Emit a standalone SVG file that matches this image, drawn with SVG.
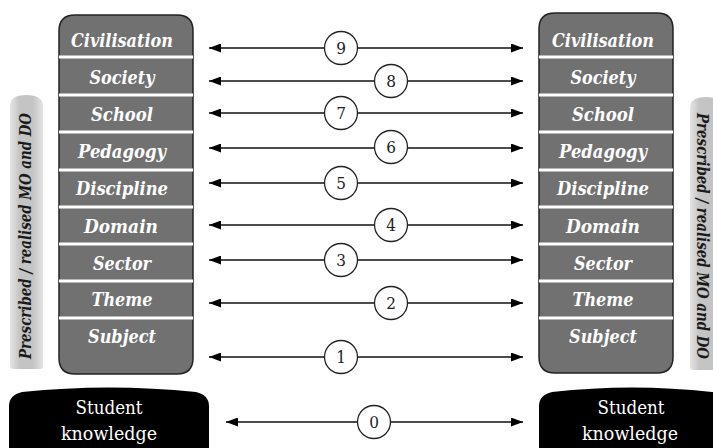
<svg xmlns="http://www.w3.org/2000/svg" width="713" height="448" viewBox="0 0 713 448">
<defs>
<style>
.lbl{font-family:"DejaVu Serif Condensed","DejaVu Serif",serif;font-weight:bold;font-style:italic;font-size:18px;fill:#ffffff;text-anchor:middle}
.stu{font-family:"DejaVu Serif Condensed","DejaVu Serif",serif;font-size:19px;fill:#ffffff;text-anchor:middle}
.num{font-family:"DejaVu Serif Condensed","DejaVu Serif",serif;font-size:17px;fill:#222;text-anchor:middle}
.side{font-family:"DejaVu Serif Condensed","DejaVu Serif",serif;font-weight:bold;font-style:italic;font-size:16px;fill:#1a1a1a;text-anchor:middle}
.box{fill:#717171;stroke:#222;stroke-width:1.5}
.sep{stroke:#ffffff;stroke-width:3}
.arr{stroke:#111;stroke-width:1.6;fill:none;marker-start:url(#ah);marker-end:url(#ah)}
.circ{fill:#fff;stroke:#222;stroke-width:1.3}
.dark{fill:#000}
</style>
<marker id="ah" viewBox="0 0 12 9" refX="12" refY="4.5" markerWidth="12" markerHeight="9" markerUnits="userSpaceOnUse" orient="auto-start-reverse">
<path d="M0,0 L12,4.5 L0,9 z" fill="#000"/>
</marker>
<linearGradient id="bar" x1="0" x2="1" y1="0" y2="0">
<stop offset="0" stop-color="#e4e4e4"/>
<stop offset="0.3" stop-color="#c4c4c4"/>
<stop offset="0.7" stop-color="#c4c4c4"/>
<stop offset="1" stop-color="#e4e4e4"/>
</linearGradient>
</defs>

<g id="side-left">
<path d="M10,106 Q10,95 26,95 Q43,95 43,106 L43,366 Q43,369 40,369 L14,369 Q10,369 10,366 Z" fill="url(#bar)"/>
<text class="side" transform="translate(31,236) rotate(-90)" textLength="246" lengthAdjust="spacingAndGlyphs">Prescribed / realised MO and DO</text>
</g>
<g id="side-right">
<path d="M690,108 Q690,97 706,97 Q722,97 722,108 L722,370 L694,370 Q690,370 690,366 Z" fill="url(#bar)"/>
<text class="side" transform="translate(697,236) rotate(90)" textLength="246" lengthAdjust="spacingAndGlyphs">Prescribed / realised MO and DO</text>
</g>

<g id="column-left">
<path class="box" d="M59,31 Q59,15 75,15 L177,15 Q193,15 193,31 L193,358 Q193,374 177,374 L75,374 Q59,374 59,358 Z"/>
<line class="sep" x1="59" y1="57" x2="193" y2="57"/>
<line class="sep" x1="59" y1="95" x2="193" y2="95"/>
<line class="sep" x1="59" y1="132" x2="193" y2="132"/>
<line class="sep" x1="59" y1="170" x2="193" y2="170"/>
<line class="sep" x1="59" y1="207" x2="193" y2="207"/>
<line class="sep" x1="59" y1="244" x2="193" y2="244"/>
<line class="sep" x1="59" y1="281" x2="193" y2="281"/>
<line class="sep" x1="59" y1="318" x2="193" y2="318"/>
<text class="lbl" x="122" y="47" textLength="102" lengthAdjust="spacingAndGlyphs">Civilisation</text>
<text class="lbl" x="122" y="84" textLength="65" lengthAdjust="spacingAndGlyphs">Society</text>
<text class="lbl" x="122" y="121" textLength="62" lengthAdjust="spacingAndGlyphs">School</text>
<text class="lbl" x="122" y="158" textLength="88" lengthAdjust="spacingAndGlyphs">Pedagogy</text>
<text class="lbl" x="122" y="195" textLength="92" lengthAdjust="spacingAndGlyphs">Discipline</text>
<text class="lbl" x="121" y="233" textLength="74" lengthAdjust="spacingAndGlyphs">Domain</text>
<text class="lbl" x="122" y="270" textLength="58" lengthAdjust="spacingAndGlyphs">Sector</text>
<text class="lbl" x="122" y="306" textLength="61" lengthAdjust="spacingAndGlyphs">Theme</text>
<text class="lbl" x="122" y="343" textLength="68" lengthAdjust="spacingAndGlyphs">Subject</text>
</g>

<g id="column-right">
<path class="box" d="M539,29 Q539,13 555,13 L657,13 Q673,13 673,29 L673,357 Q673,373 657,373 L555,373 Q539,373 539,357 Z"/>
<line class="sep" x1="539" y1="57" x2="673" y2="57"/>
<line class="sep" x1="539" y1="95" x2="673" y2="95"/>
<line class="sep" x1="539" y1="132" x2="673" y2="132"/>
<line class="sep" x1="539" y1="170" x2="673" y2="170"/>
<line class="sep" x1="539" y1="207" x2="673" y2="207"/>
<line class="sep" x1="539" y1="244" x2="673" y2="244"/>
<line class="sep" x1="539" y1="281" x2="673" y2="281"/>
<line class="sep" x1="539" y1="318" x2="673" y2="318"/>
<text class="lbl" x="603" y="47" textLength="102" lengthAdjust="spacingAndGlyphs">Civilisation</text>
<text class="lbl" x="603" y="84" textLength="65" lengthAdjust="spacingAndGlyphs">Society</text>
<text class="lbl" x="603" y="121" textLength="62" lengthAdjust="spacingAndGlyphs">School</text>
<text class="lbl" x="603" y="158" textLength="88" lengthAdjust="spacingAndGlyphs">Pedagogy</text>
<text class="lbl" x="603" y="195" textLength="92" lengthAdjust="spacingAndGlyphs">Discipline</text>
<text class="lbl" x="603" y="233" textLength="74" lengthAdjust="spacingAndGlyphs">Domain</text>
<text class="lbl" x="603" y="270" textLength="58" lengthAdjust="spacingAndGlyphs">Sector</text>
<text class="lbl" x="603" y="306" textLength="61" lengthAdjust="spacingAndGlyphs">Theme</text>
<text class="lbl" x="603" y="343" textLength="68" lengthAdjust="spacingAndGlyphs">Subject</text>
</g>

<g id="student-left">
<path class="dark" d="M9,406 Q9,395 22,392 Q109,383 196,392 Q209,395 209,406 L209,448 L9,448 Z"/>
<text class="stu" x="109" y="414" textLength="67" lengthAdjust="spacingAndGlyphs">Student</text>
<text class="stu" x="109" y="440" textLength="96" lengthAdjust="spacingAndGlyphs">knowledge</text>
</g>
<g id="student-right">
<path class="dark" d="M539,406 Q539,395 552,392 Q632,383 712,392 L713,392 L713,448 L539,448 Z"/>
<text class="stu" x="631" y="414" textLength="67" lengthAdjust="spacingAndGlyphs">Student</text>
<text class="stu" x="630" y="440" textLength="96" lengthAdjust="spacingAndGlyphs">knowledge</text>
</g>

<g id="connectors">
<line class="arr" x1="209" y1="48" x2="523" y2="48"/>
<line class="arr" x1="209" y1="81" x2="523" y2="81"/>
<line class="arr" x1="209" y1="113" x2="523" y2="113"/>
<line class="arr" x1="209" y1="148" x2="523" y2="148"/>
<line class="arr" x1="209" y1="183" x2="523" y2="183"/>
<line class="arr" x1="209" y1="225" x2="523" y2="225"/>
<line class="arr" x1="209" y1="260" x2="523" y2="260"/>
<line class="arr" x1="209" y1="303" x2="523" y2="303"/>
<line class="arr" x1="209" y1="357" x2="523" y2="357"/>
<line class="arr" x1="226" y1="422" x2="523" y2="422"/>
</g>

<g id="badges">
<circle class="circ" cx="341" cy="48" r="16.5"/><text class="num" x="341" y="54">9</text>
<circle class="circ" cx="391" cy="81" r="16.5"/><text class="num" x="391" y="87">8</text>
<circle class="circ" cx="341" cy="113" r="16.5"/><text class="num" x="341" y="119">7</text>
<circle class="circ" cx="391" cy="147" r="16.5"/><text class="num" x="391" y="153">6</text>
<circle class="circ" cx="341" cy="183" r="16.5"/><text class="num" x="341" y="189">5</text>
<circle class="circ" cx="391" cy="225" r="16.5"/><text class="num" x="391" y="231">4</text>
<circle class="circ" cx="341" cy="260" r="16.5"/><text class="num" x="341" y="266">3</text>
<circle class="circ" cx="391" cy="303" r="16.5"/><text class="num" x="391" y="309">2</text>
<circle class="circ" cx="341" cy="357" r="16.5"/><text class="num" x="341" y="363">1</text>
<circle class="circ" cx="374" cy="422" r="16.5"/><text class="num" x="374" y="428">0</text>
</g>
</svg>
